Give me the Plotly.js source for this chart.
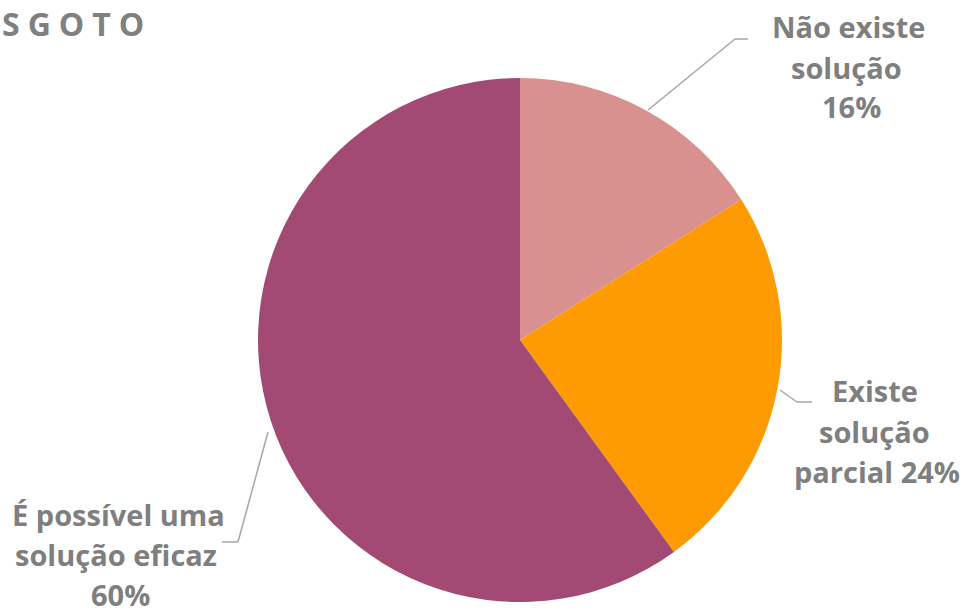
<!DOCTYPE html>
<html><head><meta charset="utf-8">
<script src="https://cdn.plot.ly/plotly-3.0.1.min.js"></script>
<style>html,body{margin:0;padding:0;background:#fff}</style>
</head><body><div id="chart" style="width:962px;height:614px"></div>
<script>
const categories = ["Não existe solução", "Existe solução parcial", "É possível uma solução eficaz"];
const values = [16, 24, 60];
const colors = ["#D8918F", "#FE9A02", "#A24A74"];
const labelLines = [["Não existe", "solução", "16%"], ["Existe", "solução", "parcial 24%"], ["É possível uma", "solução eficaz", "60%"]];
const titleText = "S\u2005G\u2005O\u2005T\u2005O";

const W = 962, H = 614;
const px = x => x / W, py = y => 1 - y / H;
const gray = "#7F7F7F";
const labelFont = {family: "'Open Sans', sans-serif", size: 29, color: gray};

// per-line centre positions (x, y middle) for each label
const labelPos = [
  [[848, 26], [846, 67], [851, 107]],
  [[875, 391], [874, 431], [877, 471]],
  [[118, 514], [116, 554], [120, 594]]
];
const annotations = [];
labelLines.forEach((lines, i) => lines.forEach((ln, j) => {
  annotations.push({
    xref: "paper", yref: "paper", x: px(labelPos[i][j][0]), y: py(labelPos[i][j][1]),
    text: "<b>" + ln + "</b>", showarrow: false, align: "center",
    xanchor: "center", yanchor: "middle", font: labelFont
  });
}));
annotations.push({xref: "paper", yref: "paper", x: px(0), y: 1, xanchor: "left", yanchor: "top",
  text: "<b>" + titleText + "</b>", showarrow: false, font: {family: "'Open Sans', sans-serif", size: 32, color: "#808080"}});

const leaders = [
  [[648, 110], [735, 39], [748, 39]],
  [[780, 390], [797, 402], [812, 402]],
  [[268, 432], [238, 542], [222, 542]]
];
const shapes = [];
leaders.forEach(pts => {
  for (let k = 0; k < pts.length - 1; k++) {
    shapes.push({type: "line", xref: "paper", yref: "paper",
      x0: px(pts[k][0]), y0: py(pts[k][1]), x1: px(pts[k+1][0]), y1: py(pts[k+1][1]),
      line: {color: "#A6A6A6", width: 1.5}});
  }
});

const cx = 520, cy = 340, r = 262;
Plotly.newPlot("chart", [{
  type: "pie", labels: categories, values: values, sort: false, direction: "clockwise", rotation: 0,
  marker: {colors: colors, line: {width: 0}}, textinfo: "none", hoverinfo: "label+percent",
  domain: {x: [px(cx - r), px(cx + r)], y: [py(cy + r), py(cy - r)]}
}], {
  width: W, height: H, margin: {l: 0, r: 0, t: 0, b: 0}, showlegend: false,
  paper_bgcolor: "#fff", annotations: annotations, shapes: shapes
}, {displayModeBar: false, staticPlot: true});
</script></body></html>
